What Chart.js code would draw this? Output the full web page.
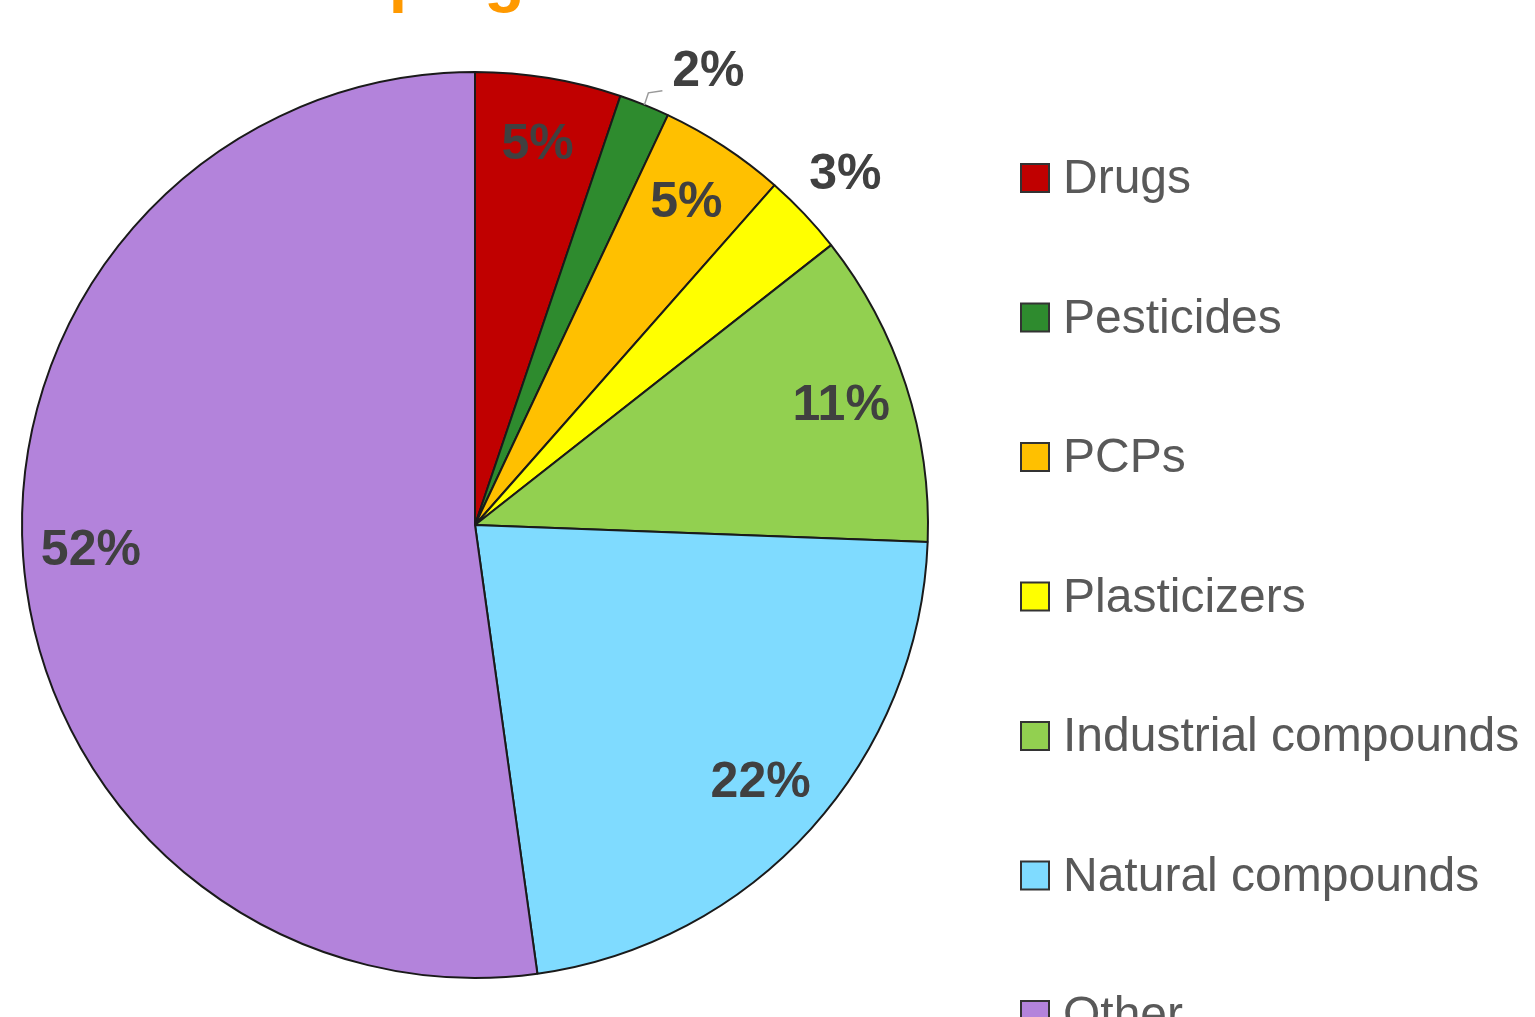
<!DOCTYPE html>
<html>
<head>
<meta charset="utf-8">
<script src="https://cdn.jsdelivr.net/npm/chart.js@4.4.1/dist/chart.umd.min.js"></script>
<style>
  html, body { margin: 0; padding: 0; background: #ffffff; }
  #wrap { width: 1535px; height: 1017px; position: relative; }
</style>
</head>
<body>
<div id="wrap"><canvas id="pieChart"></canvas></div>
<script>
// Data
const categories = ['Drugs', 'Pesticides', 'PCPs', 'Plasticizers', 'Industrial compounds', 'Natural compounds', 'Other'];
const shares = [5.2, 1.8, 4.5, 2.9, 11.2, 22.2, 52.2];
const shareLabels = ['5%', '2%', '5%', '3%', '11%', '22%', '52%'];
const sliceColors = ['#C00000', '#2E8B2E', '#FFC000', '#FFFF00', '#92D050', '#7FDBFF', '#B383DB'];
const titleText = 'Top agents';

// percentage labels, small slices go outside
const sliceLabelPlugin = {
    id: 'sliceLabels',
    afterDatasetsDraw(chart) {
        const ctx = chart.ctx;
        const arcs = chart.getDatasetMeta(0).data;
        ctx.save();
        ctx.font = 'bold 50px "Liberation Sans", Arial, sans-serif';
        ctx.textAlign = 'center';
        ctx.textBaseline = 'middle';
        ctx.fillStyle = '#404040';
        arcs.forEach((arc, i) => {
            const p = arc.getProps(['x', 'y', 'startAngle', 'endAngle', 'outerRadius'], true);
            let mid = (p.startAngle + p.endAngle) / 2;
            const outside = shares[i] < 4;
            let r = outside ? p.outerRadius * 1.125 : p.outerRadius * 0.85;
            if (outside && shares[i] < 2.5) {
                // narrow slice: label pushed aside with a small leader line
                const ex = p.x + Math.cos(mid) * p.outerRadius;
                const ey = p.y + Math.sin(mid) * p.outerRadius;
                ctx.strokeStyle = '#999999';
                ctx.lineWidth = 1.5;
                ctx.beginPath();
                ctx.moveTo(ex, ey);
                ctx.lineTo(ex + 4, ey - 12);
                ctx.lineTo(ex + 18, ey - 14);
                ctx.stroke();
                mid += 5.3 * Math.PI / 180;
            }
            ctx.fillText(shareLabels[i], p.x + Math.cos(mid) * r, p.y + Math.sin(mid) * r);
        });
        ctx.restore();
    }
};

// legend on the right and the cut-off title
const sideLegendPlugin = {
    id: 'sideLegend',
    afterDraw(chart) {
        const ctx = chart.ctx;
        ctx.save();
        ctx.font = '48px "Liberation Sans", Arial, sans-serif';
        ctx.textBaseline = 'middle';
        ctx.textAlign = 'left';
        categories.forEach((name, i) => {
            const y = 178 + i * 139.5;
            ctx.fillStyle = sliceColors[i];
            ctx.fillRect(1021, y - 14, 28, 28);
            ctx.strokeStyle = '#333333';
            ctx.lineWidth = 2;
            ctx.strokeRect(1021, y - 14, 28, 28);
            ctx.fillStyle = '#595959';
            ctx.fillText(name, 1063, y + 2);
        });

        ctx.font = 'bold 66px "Liberation Sans", Arial, sans-serif';
        ctx.fillStyle = '#FF9900';
        ctx.textBaseline = 'alphabetic';
        const x0 = 409 - ctx.measureText('To').width - ctx.measureText('p').width / 2;
        ctx.fillText(titleText, x0, -1);
        ctx.restore();
    }
};

function initChart() {
    const canvas = document.getElementById('pieChart');
    new Chart(canvas.getContext('2d'), {
        type: 'pie',
        data: {
            labels: categories,
            datasets: [{
                data: shares,
                backgroundColor: sliceColors,
                borderColor: '#1a1a1a',
                borderWidth: 2
            }]
        },
        options: {
            responsive: true,
            maintainAspectRatio: false,
            animation: false,
            layout: {
                padding: { left: 21, top: 71, right: 606, bottom: 38 }
            },
            plugins: {
                legend: { display: false },
                tooltip: { enabled: false },
                title: { display: false }
            }
        },
        plugins: [sliceLabelPlugin, sideLegendPlugin]
    });
}

document.addEventListener('DOMContentLoaded', initChart);
</script>
</body>
</html>
